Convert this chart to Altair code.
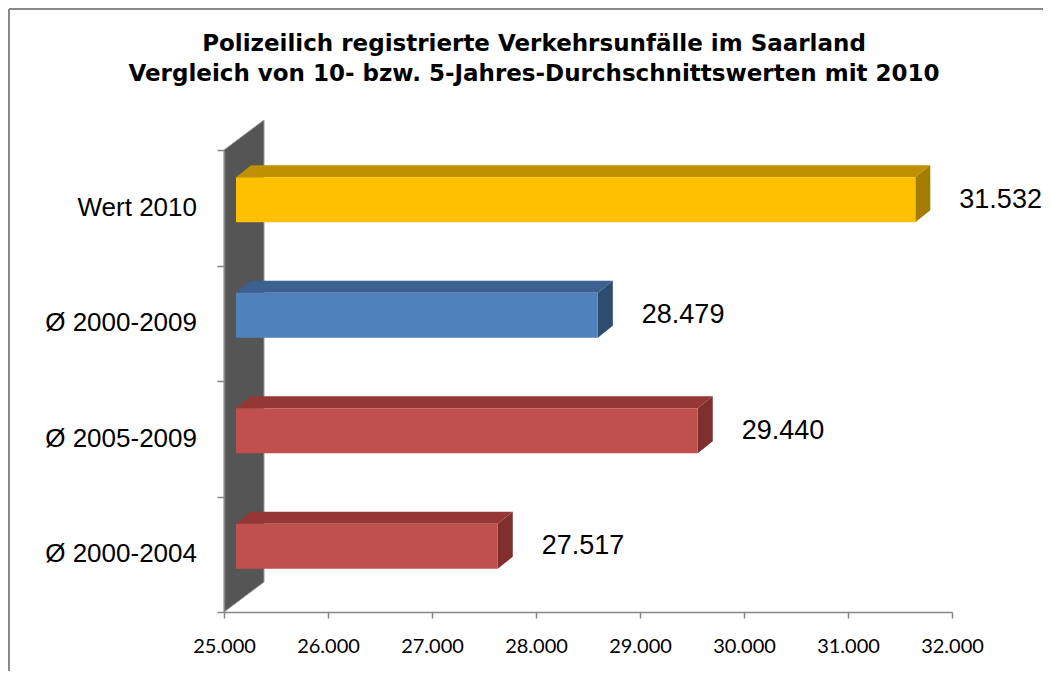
import altair as alt
import pandas as pd

# ---- data (bottom to top) ----
categories = ["Ø 2000-2004", "Ø 2005-2009", "Ø 2000-2009", "Wert 2010"]
values = [27517, 29440, 28479, 31532]
front_colors = ["#C0504D", "#C0504D", "#4F81BD", "#FFC000"]
top_colors = ["#953735", "#953735", "#3B6190", "#BF9000"]
side_colors = ["#7F302E", "#7F302E", "#2E4B70", "#A37C00"]
x_ticks = [25000, 26000, 27000, 28000, 29000, 30000, 31000, 32000]
title_lines = [
    "Polizeilich registrierte Verkehrsunfälle im Saarland",
    "Vergleich von 10- bzw. 5-Jahres-Durchschnittswerten mit 2010",
]

X_MIN, X_MAX = 25000, 32000
W, H = 728, 462
PAD_L, PAD_T, PAD_R, PAD_B = 216, 142, 91, 59
ux = (X_MAX - X_MIN) / W          # data units per pixel (x)
uy = len(categories) / H          # data units per pixel (y)

BAR_H = 45 * uy
LIFT = 8 * uy
DX, DY = 15 * ux, 12 * uy
WALL_DX, WALL_DY = 40 * ux, 30 * uy


def de(v):
    return f"{v:,}".replace(",", ".")


front_rows, top_rows, side_rows = [], [], []
for i, (c, v) in enumerate(zip(categories, values)):
    yc = i + 0.5 + LIFT
    y0, y1 = yc - BAR_H / 2, yc + BAR_H / 2
    front_rows.append(dict(cat=c, base=X_MIN, value=v, y0=y0, y1=y1, yc=yc,
                           ymid=i + 0.5, color=front_colors[i], label=de(v)))
    top_rows.append(dict(cat=c, y=y1, xa=X_MIN, xb=v, color=top_colors[i]))
    top_rows.append(dict(cat=c, y=y1 + DY, xa=X_MIN + DX, xb=v + DX, color=top_colors[i]))
    side_rows.append(dict(cat=c, x=v, ylo=y0, yhi=y1, color=side_colors[i]))
    side_rows.append(dict(cat=c, x=v + DX, ylo=y0 + DY, yhi=y1 + DY, color=side_colors[i]))

front_df = pd.DataFrame(front_rows)
top_df = pd.DataFrame(top_rows)
side_df = pd.DataFrame(side_rows)
wall_df = pd.DataFrame({
    "x": [X_MIN, X_MIN + WALL_DX],
    "ylo": [0, WALL_DY],
    "yhi": [len(categories), len(categories) + WALL_DY],
})

xs = alt.Scale(domain=[X_MIN, X_MAX], nice=False, zero=False)
ys = alt.Scale(domain=[0, len(categories)], nice=False, zero=False)

AX_COL = "#868686"
x_axis = alt.Axis(values=x_ticks, title=None, grid=False, labelFlush=False,
                  labelExpr="replace(format(datum.value, ',.0f'), ',', '.')",
                  labelFont="Lato", labelFontSize=20, labelColor="#000000",
                  labelPadding=18, tickSize=6, tickColor=AX_COL, domainColor=AX_COL,
                  domainWidth=1.5, tickWidth=1.5, zindex=1)
y_axis = alt.Axis(values=list(range(len(categories) + 1)), labels=False, title=None,
                  grid=False, tickSize=7, tickColor=AX_COL, domainColor=AX_COL,
                  domainWidth=1.5, tickWidth=1.5, zindex=1)

one = pd.DataFrame({"a": [0]})
border_top = alt.Chart(one).mark_rule(stroke="#898989", strokeWidth=2).encode(
    x=alt.value(-PAD_L + 1), x2=alt.value(W + PAD_R + 20), y=alt.value(-PAD_T + 1)
)
border_left = alt.Chart(one).mark_rule(stroke="#898989", strokeWidth=2).encode(
    x=alt.value(-PAD_L + 1), y=alt.value(-PAD_T + 1), y2=alt.value(H + PAD_B + 20)
)

title = alt.Chart(one).mark_text(
    text=title_lines, font="DejaVu Sans", fontSize=23, fontWeight="bold",
    color="#000000", align="center", baseline="alphabetic", lineHeight=30,
).encode(x=alt.value(310), y=alt.value(-99))

wall = alt.Chart(wall_df).mark_area(
    orient="vertical", color="#555555", stroke="#9a9a9a", strokeWidth=1
).encode(
    x=alt.X("x:Q", scale=xs, axis=x_axis),
    y=alt.Y("ylo:Q", scale=ys, axis=y_axis),
    y2="yhi:Q",
)

tops = alt.Chart(top_df).mark_area(orient="horizontal", xOffset=12, x2Offset=12).encode(
    y=alt.Y("y:Q", scale=ys, axis=y_axis),
    x=alt.X("xa:Q", scale=xs, axis=x_axis),
    x2="xb:Q",
    fill=alt.Fill("color:N", scale=None),
    detail="cat:N",
)

sides = alt.Chart(side_df).mark_area(orient="vertical", xOffset=12).encode(
    x=alt.X("x:Q", scale=xs, axis=x_axis),
    y=alt.Y("ylo:Q", scale=ys, axis=y_axis),
    y2="yhi:Q",
    fill=alt.Fill("color:N", scale=None),
    detail="cat:N",
)

fronts = alt.Chart(front_df).mark_rect(xOffset=12, x2Offset=12).encode(
    x=alt.X("base:Q", scale=xs, axis=x_axis),
    x2="value:Q",
    y=alt.Y("y0:Q", scale=ys, axis=y_axis),
    y2="y1:Q",
    fill=alt.Fill("color:N", scale=None),
)

value_labels = alt.Chart(front_df).mark_text(
    align="left", baseline="middle", dx=56, font="Liberation Sans", fontSize=27, color="#000000"
).encode(
    x=alt.X("value:Q", scale=xs, axis=x_axis),
    y=alt.Y("yc:Q", scale=ys, axis=y_axis),
    text="label:N",
)

cat_labels = alt.Chart(front_df).mark_text(
    align="right", baseline="middle", dx=-27, font="Liberation Sans", fontSize=26, color="#000000"
).encode(
    x=alt.X("base:Q", scale=xs, axis=x_axis),
    y=alt.Y("ymid:Q", scale=ys, axis=y_axis),
    text="cat:N",
)

chart = alt.layer(border_top, border_left, title, wall, tops, sides, fronts,
                  value_labels, cat_labels).properties(
    width=W, height=H,
    autosize=alt.AutoSizeParams(type="none"),
    padding={"left": PAD_L, "top": PAD_T, "right": PAD_R, "bottom": PAD_B},
    background="#ffffff",
).configure_view(strokeWidth=0)

chart.save("out.html", embed_options={"renderer": "svg", "actions": False})
